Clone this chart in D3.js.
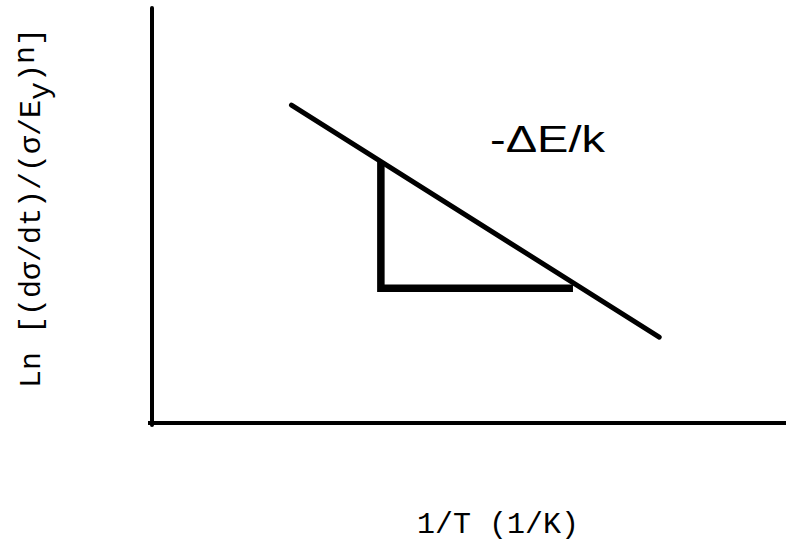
<!DOCTYPE html>
<html>
<head>
<meta charset="utf-8">
<script src="https://cdn.jsdelivr.net/npm/d3@7"></script>
<style>
  html, body { margin: 0; padding: 0; background: #fff; }
  svg { display: block; }
</style>
</head>
<body>
<script>
// Arrhenius-type plot: ln rate vs reciprocal temperature (schematic, arbitrary units)
const fitX = [22, 80];          // 1/T at the ends of the fitted line
const fitY = [76.6, 20.7];      // ln[(dσ/dt)/(σ/E_y)^n] at the ends
const slopeX = [36.1, 36.1, 66.4];   // slope triangle corners (x)
const slopeY = [63.0, 32.5, 32.5];   // slope triangle corners (y)
const slopeLabel = "-ΔE/k";
const xTitle = "1/T (1/K)";

const W = 786, H = 543;
const svg = d3.select("body").append("svg").attr("width", W).attr("height", H);

const x = d3.scaleLinear().domain([0, 100]).range([152, 786]);
const y = d3.scaleLinear().domain([0, 100]).range([423, 8]);

// axes: plain lines, no ticks
svg.append("line")
  .attr("x1", x(0)).attr("x2", x(0))
  .attr("y1", y(0) + 2).attr("y2", y(100))
  .attr("stroke", "#000").attr("stroke-width", 4).attr("stroke-linecap", "round");
svg.append("line")
  .attr("x1", x(0) - 4).attr("x2", x(100))
  .attr("y1", y(0)).attr("y2", y(0))
  .attr("stroke", "#000").attr("stroke-width", 4);

// fitted line
const pts = fitX.map((v, i) => [v, fitY[i]]);
svg.append("path")
  .attr("d", d3.line().x(d => x(d[0])).y(d => y(d[1]))(pts))
  .attr("fill", "none").attr("stroke", "#000")
  .attr("stroke-width", 5).attr("stroke-linecap", "round");

// slope triangle (vertical and horizontal legs)
const tri = slopeX.map((v, i) => [v, slopeY[i]]);
svg.append("path")
  .attr("d", d3.line().x(d => x(d[0])).y(d => y(d[1]))(tri))
  .attr("fill", "none").attr("stroke", "#000")
  .attr("stroke-width", 7.5).attr("stroke-linejoin", "miter").attr("stroke-linecap", "butt");

// slope annotation
svg.append("text")
  .attr("x", 490).attr("y", 152)
  .attr("font-family", "Liberation Sans, Arial, sans-serif")
  .attr("font-size", 37)
  .attr("textLength", 115).attr("lengthAdjust", "spacingAndGlyphs")
  .text(slopeLabel);

// x-axis title
svg.append("text")
  .attr("x", 498).attr("y", 533)
  .attr("text-anchor", "middle")
  .attr("font-family", "Courier New, Liberation Mono, monospace")
  .attr("font-size", 30)
  .text(xTitle);

// y-axis title with subscript and superscript
const yt = svg.append("text")
  .attr("transform", "translate(40,208) rotate(-90)")
  .attr("text-anchor", "middle")
  .attr("font-family", "Courier New, Liberation Mono, monospace")
  .attr("font-size", 30);
yt.append("tspan").text("Ln [(dσ/dt)/(σ/E");
yt.append("tspan").attr("dy", 9).text("y");
yt.append("tspan").attr("dy", -9).text(")");
yt.append("tspan").attr("dy", -6).text("n");
yt.append("tspan").attr("dy", 6).text("]");
</script>
</body>
</html>
